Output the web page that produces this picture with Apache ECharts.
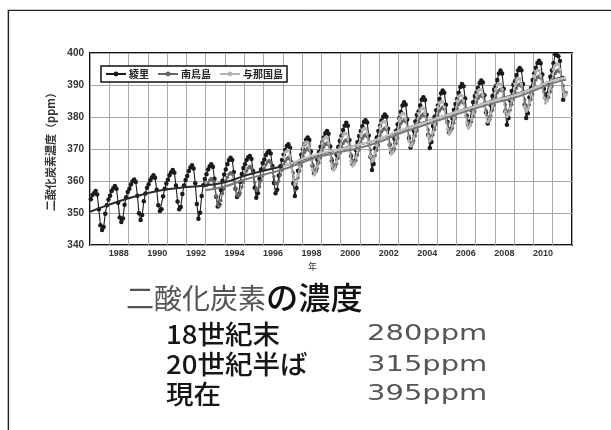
<!DOCTYPE html>
<html><head><meta charset="utf-8">
<script src="https://cdn.jsdelivr.net/npm/echarts@6/dist/echarts.min.js"></script>
<style>html,body{margin:0;padding:0;background:#fff}#c{width:611px;height:430px}</style>
</head><body><div id="c"></div>
<script>
// ---- data ----
const seriesNames = ['綾里', '南鳥島', '与那国島'];
const xTickLabels = ['1988','1990','1992','1994','1996','1998','2000','2002','2004','2006','2008','2010'];
const yTickLabels = ['340','350','360','370','380','390','400'];

const ryoriStartYear = 1987;
const ryoriMonthly = [
354.3,355.6,356.2,356.9,355.8,351.2,346.2,344.7,345.6,349.8,352.4,354.2,
355.4,356.9,357.7,358.4,357.6,353.2,348.6,347.2,348.3,352.6,354.9,356.6,
357.6,358.9,359.9,360.5,359.7,355.4,349.9,347.8,349.4,353.7,356.1,357.9,
359.0,360.2,361.1,361.8,361.0,357.3,352.4,350.6,351.2,355.2,357.6,359.2,
360.4,361.8,362.7,363.4,362.6,358.6,353.6,351.2,351.9,355.9,358.6,360.3,
361.6,363.1,364.2,364.9,363.9,359.3,352.8,348.2,350.1,355.3,358.7,360.6,
362.1,363.6,364.6,365.2,364.4,360.7,355.1,352.0,352.6,357.2,360.1,362.0,
363.6,365.3,366.6,367.3,366.6,362.8,357.6,355.0,355.8,359.7,362.2,364.1,
365.2,366.6,367.4,367.8,366.9,363.1,357.9,354.8,356.2,360.7,363.6,365.6,
366.7,368.1,368.9,369.4,368.6,364.7,359.4,356.2,357.3,361.7,364.6,366.6,
368.2,369.7,370.9,371.5,370.4,365.8,359.2,355.3,357.8,363.2,366.1,368.2,
370.1,371.6,372.9,373.6,372.8,369.2,364.8,362.4,363.2,366.7,369.1,370.7,
372.0,373.6,374.9,375.6,374.8,370.8,366.3,363.9,364.7,368.2,370.6,372.6,
374.1,375.9,377.3,378.2,377.3,372.8,367.8,365.2,366.2,369.7,372.1,374.1,
375.6,377.1,378.4,379.0,378.3,374.2,367.6,363.4,365.3,370.2,373.6,375.6,
377.2,378.9,380.1,380.8,380.1,376.3,371.3,368.9,369.7,373.2,375.7,377.7,
379.6,381.6,383.6,384.6,383.8,379.2,373.4,370.5,371.7,375.7,378.6,380.6,
381.7,383.6,385.4,386.2,385.3,380.7,374.4,370.3,372.2,377.2,380.1,382.1,
383.6,385.6,387.4,388.3,387.6,383.8,378.4,375.2,376.2,379.7,382.2,384.1,
385.6,387.6,389.4,390.3,389.6,385.8,380.4,377.6,378.7,382.2,384.6,386.6,
387.6,389.1,390.6,391.4,390.8,386.8,381.4,378.0,379.2,383.7,386.6,388.6,
389.6,391.6,393.6,394.5,393.6,388.8,381.8,377.6,379.7,385.2,388.1,390.1,
391.2,393.1,394.6,395.3,394.6,390.3,383.8,379.7,381.2,386.2,389.1,391.6,
393.6,395.4,396.9,397.6,396.8,393.3,388.8,386.4,387.2,390.2,392.6,394.6,
396.8,399.6,399.4,399.0,397.5,392.0,385.4
];

const minamiStartYear = 1993;
const minamiMonthly = [
358.6,359.4,360.3,360.8,360.1,358.2,355.2,352.6,352.2,353.9,356.1,357.6,
359.9,361.1,362.1,362.6,362.1,360.3,357.6,355.6,355.3,356.2,358.1,359.7,
361.9,363.1,364.1,364.6,364.0,362.3,359.6,357.5,357.3,358.2,360.1,361.7,
363.9,365.1,365.9,366.4,365.8,364.0,361.3,359.3,359.1,359.9,361.9,363.4,
365.1,366.1,366.9,367.4,366.8,365.1,362.6,360.2,359.9,361.0,363.1,364.7,
367.7,368.9,369.7,370.3,369.6,367.8,365.3,363.3,362.9,364.0,365.6,367.2,
369.4,370.6,371.4,371.9,371.3,369.6,367.0,365.0,364.6,365.5,367.1,368.7,
370.7,371.7,372.5,372.9,372.3,370.6,368.1,366.1,365.6,366.5,368.1,369.7,
372.1,373.3,374.1,374.5,373.8,372.1,369.6,367.6,367.1,368.0,369.6,371.2,
374.2,375.4,376.1,376.6,376.0,374.1,371.6,369.6,369.1,370.0,371.7,373.4,
376.7,377.9,378.7,379.1,378.5,376.6,374.1,372.1,371.6,372.5,374.1,375.7,
378.6,379.7,380.5,380.9,380.3,378.6,376.0,374.0,373.5,374.4,376.1,377.7,
380.7,381.9,382.6,383.1,382.4,380.6,378.1,376.1,375.6,376.5,378.1,379.7,
382.7,383.9,384.6,385.1,384.4,382.6,380.1,378.1,377.6,378.5,380.1,381.7,
384.6,385.7,386.5,386.9,386.3,384.5,382.0,380.0,379.5,380.4,382.1,383.7,
386.4,387.6,388.3,388.7,388.1,386.3,383.8,381.8,381.3,382.2,383.9,385.5,
387.9,389.1,389.9,390.3,389.6,387.8,385.4,383.4,382.9,383.8,385.5,387.1,
390.4,391.6,392.4,392.8,392.1,390.3,387.8,385.8,385.3,386.2,387.9,389.5,
392.4,393.6,394.3,394.7,394.1,392.3,389.8,387.8,387.6
];

const yonaguniStartYear = 1997;
const yonaguniMonthly = [
367.4,368.9,369.4,369.6,367.9,364.1,360.6,359.1,359.9,361.9,364.2,366.2,
370.4,371.6,372.1,372.0,370.4,366.8,363.4,361.9,362.6,364.6,366.9,368.9,
371.9,373.1,373.6,373.5,371.9,368.3,364.9,363.4,364.1,366.1,368.4,370.4,
373.2,374.4,374.9,374.8,373.2,369.6,366.2,364.7,365.4,367.4,369.7,371.7,
374.7,375.9,376.4,376.3,374.7,371.1,367.7,366.2,366.9,368.9,371.2,373.2,
376.9,378.1,378.6,378.5,376.9,373.3,369.9,368.4,369.1,371.1,373.4,375.4,
379.4,380.6,381.1,381.0,379.4,375.8,372.4,370.9,371.6,373.6,375.9,377.9,
381.1,382.3,382.8,382.7,381.1,377.5,374.1,372.6,373.3,375.3,377.6,379.6,
383.1,384.3,384.8,384.7,383.1,379.5,376.1,374.6,375.3,377.3,379.6,381.6,
385.1,386.3,386.8,386.7,385.1,381.5,378.1,376.6,377.3,379.3,381.6,383.6,
386.9,388.1,388.6,388.5,386.9,383.3,379.9,378.4,379.1,381.1,383.4,385.4,
388.7,389.9,390.4,390.3,388.7,385.1,381.7,380.2,380.9,382.9,385.2,387.2,
390.3,391.5,392.0,391.9,390.3,386.7,383.3,381.8,382.5,384.5,386.8,388.8,
392.9,394.1,394.6,394.5,392.9,389.3,385.9,384.4,385.1,387.1,389.4,391.4,
394.9,396.1,396.6,396.5,394.9,391.3,387.9,386.4,387.1
];

// smoothed long-term trends (value at each listed year position)
const ryoriTrendYears = [1987,1988,1989,1990,1991,1992,1993,1994,1995,1996,1997,1998,1999,2000,2001,2002,2003,2004,2005,2006,2007,2008,2009,2010,2011,2011.6];
const ryoriTrend = [350.4,352.6,354.6,356.2,357.4,358.1,358.6,359.6,361.6,363.2,364.7,366.6,368.5,370.1,371.4,373.1,375.5,377.7,379.6,381.6,383.4,385.3,387.0,389.0,391.5,392.7];
const minamiTrendYears = [1993,1994,1995,1996,1997,1998,1999,2000,2001,2002,2003,2004,2005,2006,2007,2008,2009,2010,2011,2011.7];
const minamiTrend = [357.2,358.3,360.4,362.0,363.6,365.8,367.8,369.1,370.4,372.2,374.7,376.8,378.8,380.8,382.7,384.5,386.0,388.2,390.6,391.6];
const yonaguniTrendYears = [1997,1998,1999,2000,2001,2002,2003,2004,2005,2006,2007,2008,2009,2010,2011,2011.7];
const yonaguniTrend = [364.5,366.8,368.7,370.0,371.4,373.2,375.6,377.6,379.6,381.6,383.4,385.2,386.8,389.0,391.4,392.3];

// bottom caption texts
const captionTitleA = '二酸化炭素';
const captionTitleB = 'の濃度';
const rowLabels = ['18世紀末', '20世紀半ば', '現在'];
const rowValues = ['280ppm', '315ppm', '395ppm'];

// ---- build ----
const monthly = (start, arr) => arr.map((v, i) => [start + (i + 0.5) / 12, v]);
const pairs = (xs, ys) => xs.map((x, i) => [x, ys[i]]);

const CJK = '"Noto Sans CJK JP", sans-serif';
const LAT = '"Liberation Sans", Arial, sans-serif';

const chart = echarts.init(document.getElementById('c'), null, {renderer: 'canvas'});

const rowY = [334, 364.5, 394];
const graphics = [
  {type: 'rect', silent: true, shape: {x: 7.5, y: 9.5, width: 800, height: 800}, style: {fill: 'none', stroke: '#c8c8c8', lineWidth: 1}},
  {type: 'rect', silent: true, shape: {x: 8.5, y: 10.5, width: 800, height: 800}, style: {fill: 'none', stroke: '#222', lineWidth: 1.2}},
  {type: 'text', x: 126, y: 298, style: {text: captionTitleA, font: '28px ' + CJK, fill: '#555', textAlign: 'left', textVerticalAlign: 'middle'}},
  {type: 'text', x: 266, y: 297.5, scaleX: 1.04, style: {text: captionTitleB, font: '500 31px ' + CJK, fill: '#111', textAlign: 'left', textVerticalAlign: 'middle'}}
];
rowLabels.forEach((t, i) => {
  graphics.push({type: 'text', x: 166, y: rowY[i], scaleX: 1.06, style: {text: t, font: '500 26px ' + CJK, fill: '#161616', textAlign: 'left', textVerticalAlign: 'middle'}});
  graphics.push({type: 'text', x: 367, y: rowY[i] + 1, scaleX: 1.38, style: {text: rowValues[i], font: '21px "DejaVu Sans", sans-serif', fill: '#555', textAlign: 'left', textVerticalAlign: 'middle'}});
});

const option = {
  animation: false,
  backgroundColor: '#fff',
  grid: {left: 90, top: 53, width: 482, height: 192, show: true, borderColor: '#111', borderWidth: 2, backgroundColor: '#fff'},
  legend: {
    data: seriesNames,
    left: 101, top: 66,
    backgroundColor: '#fff', borderColor: '#111', borderWidth: 1.5, borderRadius: 0,
    padding: [3, 4, 3, 4],
    itemGap: 8, itemWidth: 20, itemHeight: 6,
    textStyle: {fontFamily: CJK, fontSize: 10, fontWeight: 'bold', color: '#222', padding: [0, 0, 0, -2]}
  },
  xAxis: {
    type: 'value', min: 1987, max: 2012, interval: 1,
    name: '年', nameLocation: 'middle', nameGap: 17,
    nameTextStyle: {fontFamily: CJK, fontSize: 9, color: '#333', padding: [0, 37, 0, 0]},
    axisLine: {show: false}, axisTick: {show: false},
    splitLine: {show: true, lineStyle: {color: '#a8a8a8', width: 1}},
    axisLabel: {
      margin: 4, fontFamily: LAT, fontSize: 9, fontWeight: 'bold', color: '#333', padding: [0, 0, 0, 19],
      formatter: v => xTickLabels.includes(String(v)) ? String(v) : ''
    }
  },
  yAxis: {
    type: 'value', min: 340, max: 400, interval: 10,
    name: '二酸化炭素濃度（ppm）', nameLocation: 'middle', nameGap: 24, nameRotate: 90,
    nameTextStyle: {fontFamily: CJK, fontSize: 11, fontWeight: 'bold', color: '#333'},
    axisLine: {show: false}, axisTick: {show: false},
    splitLine: {show: true, lineStyle: {color: '#a8a8a8', width: 1}},
    axisLabel: {margin: 6, fontFamily: LAT, fontSize: 10, fontWeight: 'bold', color: '#333',
      formatter: v => yTickLabels.includes(String(v)) ? String(v) : ''}
  },
  series: [
    {name: seriesNames[0], type: 'line', data: monthly(ryoriStartYear, ryoriMonthly), z: 2,
      symbol: 'circle', symbolSize: 4.5, showSymbol: true,
      lineStyle: {color: '#1a1a1a', width: 1.1}, itemStyle: {color: '#1a1a1a'}},
    {name: seriesNames[1], type: 'line', data: monthly(minamiStartYear, minamiMonthly), z: 3,
      symbol: 'circle', symbolSize: 3.5, showSymbol: true,
      lineStyle: {color: '#666', width: 1.1}, itemStyle: {color: '#666'}},
    {name: seriesNames[2], type: 'line', data: monthly(yonaguniStartYear, yonaguniMonthly), z: 4,
      symbol: 'circle', symbolSize: 3.5, showSymbol: true,
      lineStyle: {color: '#b4b4b4', width: 1.1}, itemStyle: {color: '#b4b4b4'}},
    {name: 'trend-r', type: 'line', data: pairs(ryoriTrendYears, ryoriTrend), z: 5, smooth: 0.5,
      showSymbol: false, lineStyle: {color: '#2a2a2a', width: 2}},
    {name: 'trend-m', type: 'line', data: pairs(minamiTrendYears, minamiTrend), z: 6, smooth: 0.5,
      showSymbol: false, lineStyle: {color: '#777', width: 2}},
    {name: 'trend-y', type: 'line', data: pairs(yonaguniTrendYears, yonaguniTrend), z: 7, smooth: 0.5,
      showSymbol: false, lineStyle: {color: '#c4c4c4', width: 2.2}}
  ],
  graphic: graphics
};
chart.setOption(option);
</script>
</body></html>
